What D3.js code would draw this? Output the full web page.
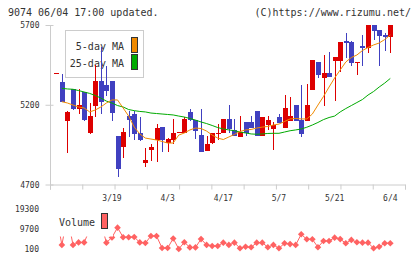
<!DOCTYPE html>
<html>
<head>
<meta charset="utf-8">
<script src="https://cdn.jsdelivr.net/npm/d3@7"></script>
<style>
  body { margin: 0; background: #fff; }
  text { font-family: "DejaVu Sans Mono", monospace; }
</style>
</head>
<body>
<svg id="chart" width="420" height="259"></svg>
<script>
// daily candles, oldest first (61 trading days up to 6/4)
const opens = [5395,5343,5100,5297,5171,5278,5021,5194,5349,5324,5349,5004,4937,5129,5142,5023,4833,4916,4979,5060,
  4958,4979,5027,5025,5155,5104,5010,4912,4962,5019,5025,5111,5042,5000,5092,5092,5161,5006,5071,5050,
  5123,5056,5100,5198,5104,5098,5292,5468,5370,5401,5476,5476,5600,5593,5466,5568,5558,5710,5669,5639,5627];
const closes = [5397,5217,5156,5171,5197,5106,5129,5349,5219,5288,5150,4799,5029,5104,5018,4979,4854,4935,5054,4979,
  4985,5023,5029,5111,5104,5037,4902,4954,5021,5021,5111,5048,5006,5029,5021,5056,5006,5123,5104,5073,
  5087,5180,5129,5098,5018,5198,5481,5387,5401,5376,5499,5593,5589,5464,5468,5556,5715,5664,5633,5627,5712];
const highs = [5400,5393,5163,5300,5297,5280,5211,5449,5560,5443,5349,5004,5054,5161,5161,5123,4929,4954,5079,5060,
  4990,5111,5030,5125,5175,5104,5173,5004,5021,5079,5111,5198,5111,5129,5092,5129,5161,5123,5129,5092,
  5142,5261,5249,5198,5324,5330,5481,5468,5512,5531,5499,5593,5650,5600,5468,5637,5740,5740,5669,5650,5730];
const lows = [5394,5217,4899,5168,5142,5100,5019,5125,5142,5257,5100,4749,4866,5000,4979,4973,4812,4845,4841,4904,
  4906,4954,5027,5025,5098,4987,4902,4912,4952,4979,5025,5025,5006,5000,5006,5056,5006,5006,5042,4916,
  5087,5056,5100,5098,4998,5098,5292,5368,5192,5376,5223,5407,5495,5445,5388,5445,5526,5606,5445,5539,5526];
const ma5 = [null,5219,5211,5198,5186,5180,5155,5167,5186,5211,5230,5230,5180,5129,5060,5017,4991,4985,4979,4970,
  4960,4960,5010,5023,5042,5054,5051,5035,5010,4991,4982,4998,5014,5032,5042,5045,5054,5060,5064,5073,
  5079,5095,5111,5114,5111,5111,5142,5198,5252,5311,5368,5418,5468,5496,5512,5540,5559,5575,5587,5609,5637];
const ma25 = [null,5303,5299,5297,5289,5280,5271,5258,5242,5223,5211,5195,5186,5170,5163,5158,5155,5148,5145,5142,
  5139,5136,5129,5123,5114,5104,5092,5082,5070,5057,5048,5042,5037,5029,5023,5017,5015,5017,5020,5021,
  5021,5029,5037,5042,5048,5059,5073,5089,5107,5120,5129,5155,5176,5195,5214,5233,5261,5283,5311,5336,5365];
const volumes = [17000,2200,16000,2200,3400,3400,9500,14000,13000,3300,5800,10500,5900,5900,6000,3400,3100,6500,6500,700,
  700,5300,250,3500,1000,1000,5000,2200,1700,1700,3300,2200,3300,600,1300,1100,3300,3300,1100,2200,
  600,3000,2600,2200,7300,4900,4900,1100,4100,4100,5700,5000,3000,4600,3500,3300,3300,600,1300,3000,3000];

const priceTicks = [5700, 5200, 4700];
const volumeTicks = [19300, 9700, 100];
const dateLabels = ["3/19", "4/3", "4/17", "5/7", "5/21", "6/4"];
const labelIndex = [10, 20, 30, 40, 50, 60];

const RED = "#dd0000", BLUE = "#4040c0", ORANGE = "#f08a00", GREEN = "#00aa00", VOL = "#ff6262";

const svg = d3.select("#chart");

const x = d3.scaleLinear().domain([0, 60]).range([56.3, 390.3]);
const y = d3.scaleLinear().domain([4700, 5700]).range([184.5, 25]);
const yv = d3.scaleLinear().domain([100, 19300]).range([249.3, 209.3]);
const grid = d3.scaleLinear().domain([0, 11]).range([50, 405]);

// header
svg.append("text").attr("x", 8).attr("y", 16).attr("font-size", 10).attr("fill", "#333")
  .text("9074 06/04 17:00 updated.");
svg.append("text").attr("x", 411).attr("y", 16).attr("font-size", 10).attr("fill", "#333")
  .attr("text-anchor", "end").text("(C)https://www.rizumu.net/");

// y axis
const yAxis = svg.append("g").attr("transform", "translate(50.5,0)")
  .call(d3.axisLeft(y).tickValues(priceTicks).tickFormat(d3.format("d")).tickSize(5));
yAxis.select(".domain").remove();
yAxis.selectAll(".tick line").attr("x1", 3).attr("x2", -5).attr("stroke", "#ccc");
yAxis.selectAll(".tick text").attr("font-size", 8).attr("fill", "#333")
  .attr("font-family", "DejaVu Sans Mono, monospace").attr("x", -11);
svg.append("line").attr("x1", 50.5).attr("x2", 50.5).attr("y1", 25).attr("y2", 189.5)
  .attr("stroke", "#ccc");

// x axis (plain grid ticks)
const xAxis = svg.append("g").attr("transform", "translate(0,184.5)")
  .call(d3.axisBottom(grid).ticks(11).tickSize(5).tickSizeOuter(5).tickFormat(""));
xAxis.select(".domain").attr("stroke", "#ccc");
xAxis.selectAll(".tick line").attr("stroke", "#ccc");

svg.append("g").selectAll("text").data(labelIndex).join("text")
  .attr("x", d => x(d)).attr("y", 200.5).attr("text-anchor", "middle")
  .attr("font-size", 8).attr("fill", "#333")
  .text((d, i) => dateLabels[i]);

// price legend
const leg = svg.append("g");
leg.append("rect").attr("x", 65.5).attr("y", 30.5).attr("width", 78).attr("height", 47)
  .attr("fill", "#fff").attr("stroke", "#ccc");
leg.append("text").attr("x", 124).attr("y", 49.5).attr("text-anchor", "end")
  .attr("font-size", 10).attr("fill", "#333").text("5-day MA");
leg.append("text").attr("x", 124).attr("y", 66.5).attr("text-anchor", "end")
  .attr("font-size", 10).attr("fill", "#333").text("25-day MA");
leg.append("rect").attr("x", 131.5).attr("y", 37.5).attr("width", 6).attr("height", 15)
  .attr("fill", ORANGE).attr("stroke", "#333");
leg.append("rect").attr("x", 131.5).attr("y", 54.5).attr("width", 6).attr("height", 15)
  .attr("fill", GREEN).attr("stroke", "#333");

// candles
svg.append("clipPath").attr("id", "plot").append("rect")
  .attr("x", 50).attr("y", 25).attr("width", 356).attr("height", 160);
const plot = svg.append("g").attr("clip-path", "url(#plot)");

const candles = plot.selectAll("g.c").data(d3.range(opens.length)).join("g").attr("class", "c");
candles.append("line")
  .attr("x1", i => Math.round(x(i)) + 0.5).attr("x2", i => Math.round(x(i)) + 0.5)
  .attr("y1", i => y(highs[i])).attr("y2", i => y(lows[i]))
  .attr("stroke", i => closes[i] >= opens[i] ? RED : BLUE).attr("shape-rendering", "crispEdges");
candles.append("rect")
  .attr("x", i => Math.round(x(i)) - 2).attr("width", 5)
  .attr("y", i => y(Math.max(opens[i], closes[i])))
  .attr("height", i => Math.max(1, Math.abs(y(opens[i]) - y(closes[i]))))
  .attr("fill", i => closes[i] >= opens[i] ? RED : BLUE).attr("shape-rendering", "crispEdges");

// moving averages
const maLine = arr => d3.line().defined(i => arr[i] != null)
  .x(i => x(i)).y(i => y(arr[i]))(d3.range(arr.length));
plot.append("path").attr("d", maLine(ma25)).attr("fill", "none").attr("stroke", GREEN).attr("stroke-width", 1);
plot.append("path").attr("d", maLine(ma5)).attr("fill", "none").attr("stroke", ORANGE).attr("stroke-width", 1);

// volume
const vol = svg.append("g");
vol.append("path").attr("d", d3.line().x(i => x(i)).y(i => yv(volumes[i]))(d3.range(volumes.length)))
  .attr("fill", "none").attr("stroke", VOL).attr("stroke-width", 1);
vol.selectAll("path.m").data(d3.range(volumes.length)).join("path").attr("class", "m")
  .attr("d", d3.symbol(d3.symbolSquare, 22))
  .attr("transform", i => `translate(${x(i)},${yv(volumes[i])}) rotate(45)`)
  .attr("fill", VOL);

// volume legend (covers the tall early days)
svg.append("rect").attr("x", 53).attr("y", 204).attr("width", 60).attr("height", 32.5).attr("fill", "#fff");
svg.append("text").attr("x", 59).attr("y", 225.5).attr("font-size", 10).attr("fill", "#333").text("Volume");
svg.append("rect").attr("x", 101.5).attr("y", 213.5).attr("width", 6).attr("height", 15)
  .attr("fill", VOL).attr("stroke", "#333");

const yvAxis = svg.append("g").attr("transform", "translate(50,0)")
  .call(d3.axisLeft(yv).tickValues(volumeTicks).tickFormat(d3.format("d")).tickSize(0).tickPadding(11));
yvAxis.select(".domain").remove();
yvAxis.selectAll(".tick text").attr("font-size", 8).attr("fill", "#333")
  .attr("font-family", "DejaVu Sans Mono, monospace");
</script>
</body>
</html>
